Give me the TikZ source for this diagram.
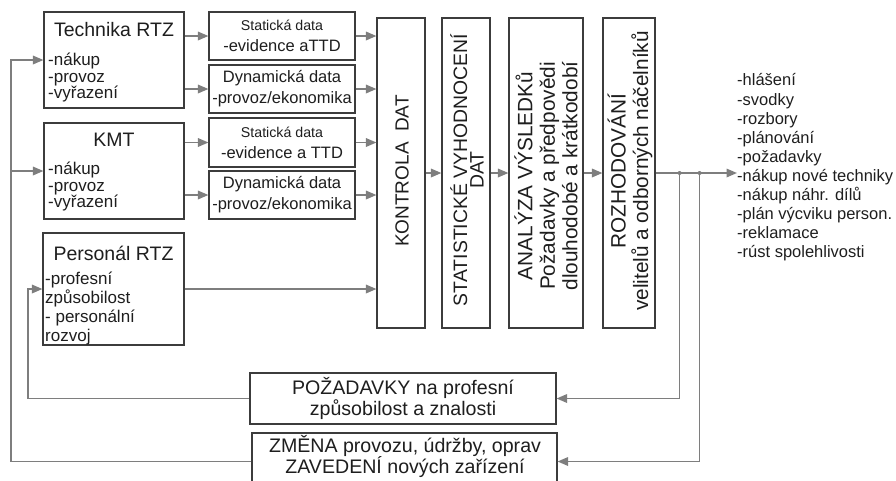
\documentclass[tikz,border=0pt]{standalone}
\usepackage{fontspec}
\setmainfont{Liberation Sans}
\usetikzlibrary{arrows.meta}
\definecolor{boxc}{HTML}{3C3C3C}
\definecolor{linec}{HTML}{7E7E7E}
\definecolor{txtc}{HTML}{1E1E1E}
\newcommand\fhead{\fontsize{19.5}{18}\selectfont}
\newcommand\fbody{\fontsize{17}{16.5}\selectfont}
\newcommand\fpers{\fontsize{17}{19}\selectfont}
\newcommand\fsmall{\fontsize{14.2}{15}\selectfont}
\newcommand\fdata{\fontsize{16.5}{21}\selectfont}
\newcommand\flist{\fontsize{16.5}{19.1}\selectfont}
\newcommand\fvert{\fontsize{20.8}{22.5}\selectfont}
\newcommand\fbot{\fontsize{19.6}{21.5}\selectfont}
\begin{document}
\begin{tikzpicture}[x=1pt,y=-1pt,
  box/.style={draw=boxc, line width=1.1pt, fill=white, inner sep=0pt, text=txtc},
  head/.style={inner sep=0pt, text=txtc, font=\fhead},
  body/.style={inner sep=0pt, text=txtc, align=left, anchor=north west},
  vtext/.style={inner sep=0pt, text=txtc, rotate=90, align=center},
  conn/.style={draw=linec, line width=1.7pt, -{Triangle[length=10.5pt,width=8.5pt]}}]
\useasboundingbox (0,0) rectangle (896,480);

% source boxes
\node[box, minimum width=140, minimum height=96] (tech) at (114,60) {};
\node[head] (techt) at (114,30) {Technika RTZ};
\node[body, font=\fbody] (techb) at (48,53) {-nákup\\-provoz\\-vyřazení};

\node[box, minimum width=140, minimum height=96] (kmt) at (114,171) {};
\node[head] (kmtt) at (114,140) {KMT};
\node[body, font=\fbody] (kmtb) at (48,162) {-nákup\\-provoz\\-vyřazení};

\node[box, minimum width=141, minimum height=112] (pers) at (113.5,289) {};
\node[head] (perst) at (113.5,253) {Personál RTZ};
\node[body, font=\fpers] (persb) at (45,272) {-profesní\\způsobilost\\- personální\\rozvoj};

% data boxes
\node[box, minimum width=146, minimum height=48, align=center, font=\fdata] (stat1) at (282,36)
  {{\fsmall Statická data}\\-evidence aTTD};
\node[box, minimum width=146, minimum height=48, align=center, font=\fdata] (dyn1) at (282,89)
  {Dynamická data\\-provoz/ekonomika};
\node[box, minimum width=146, minimum height=49, align=center, font=\fdata] (stat2) at (282,142.5)
  {{\fsmall Statická data}\\-evidence a TTD};
\node[box, minimum width=146, minimum height=48, align=center, font=\fdata] (dyn2) at (282,195)
  {Dynamická data\\-provoz/ekonomika};

% processing columns
\node[box, minimum width=48, minimum height=310] (kontrola) at (401,173) {};
\node[vtext, font=\fontsize{19}{18}\selectfont] (kontrolat) at (402,171) {KONTROLA\ \ DAT};
\node[box, minimum width=48, minimum height=310] (stat) at (466,173) {};
\node[vtext, font=\fontsize{19.4}{16.5}\selectfont] (statt) at (467,170) {STATISTICKÉ VYHODNOCENÍ\\DAT};
\node[box, minimum width=74, minimum height=310] (anal) at (546,173) {};
\node[vtext, font=\fvert] (analt) at (546,176) {ANALÝZA VÝSLEDKů\\Požadavky a předpovědi\\dlouhodobé a krátkodobí};
\node[box, minimum width=52, minimum height=310] (rozh) at (629,173) {};
\node[vtext, font=\fvert] (rozht) at (630,171) {ROZHODOVÁNÍ\\velitelů a odborných náčelníků};

% outputs
\node[inner sep=0pt, text=txtc, align=left, anchor=west, font=\flist] (list) at (737,167.5)
  {-hlášení\\-svodky\\-rozbory\\-plánování\\-požadavky\\-nákup nové techniky\\-nákup náhr. dílů\\-plán výcviku person.\\-reklamace\\-rúst spolehlivosti};

% feedback boxes
\node[box, minimum width=306, minimum height=51, align=center, font=\fbot] (poz) at (403,398.5)
  {POŽADAVKY na profesní\\způsobilost a znalosti};
\node[box, minimum width=305, minimum height=57, align=center, font=\fbot] (zmena) at (404.5,461.5) {};
\node[inner sep=0pt, align=center, font=\fbot, text=txtc] (zmenat) at (405,456.5)
  {ZMĚNA provozu, údržby, oprav\\ZAVEDENÍ nových zařízení};

% forward flow
\draw[conn] (tech.east |- stat1.west) -- (stat1.west);
\draw[conn] (tech.east |- dyn1.west) -- (dyn1.west);
\draw[conn] (kmt.east |- stat2.west) -- (stat2.west);
\draw[conn] (kmt.east |- dyn2.west) -- (dyn2.west);
\draw[conn] (stat1.east) -- (stat1.east -| kontrola.west);
\draw[conn] (dyn1.east) -- (dyn1.east -| kontrola.west);
\draw[conn] (stat2.east) -- (stat2.east -| kontrola.west);
\draw[conn] (dyn2.east) -- (dyn2.east -| kontrola.west);
\draw[conn] (pers.east) -- (pers.east -| kontrola.west);
\draw[conn] (kontrola.east) -- (stat.west);
\draw[conn] (stat.east) -- (anal.west);
\draw[conn] (anal.east) -- (rozh.west);
\draw[conn] (rozh.east) -- (rozh.east -| list.west);

% feedback loops
\path (rozh.east) ++(24,0) coordinate (j1) ++(20,0) coordinate (j2);
\coordinate (lp) at (28,0);
\coordinate (lz) at (11,0);
\draw[conn] (j1) |- (poz.east);
\draw[conn] (j2) |- (zmena.east);
\fill[linec] (j1) circle (2pt) (j2) circle (2pt);
\draw[conn] (poz.west) -- (poz.west -| lp) |- (pers.west);
\draw[conn] (zmena.west) -- (zmena.west -| lz) |- (tech.west);
\draw[conn] (lz |- kmt.west) -- (kmt.west);
\end{tikzpicture}
\end{document}
